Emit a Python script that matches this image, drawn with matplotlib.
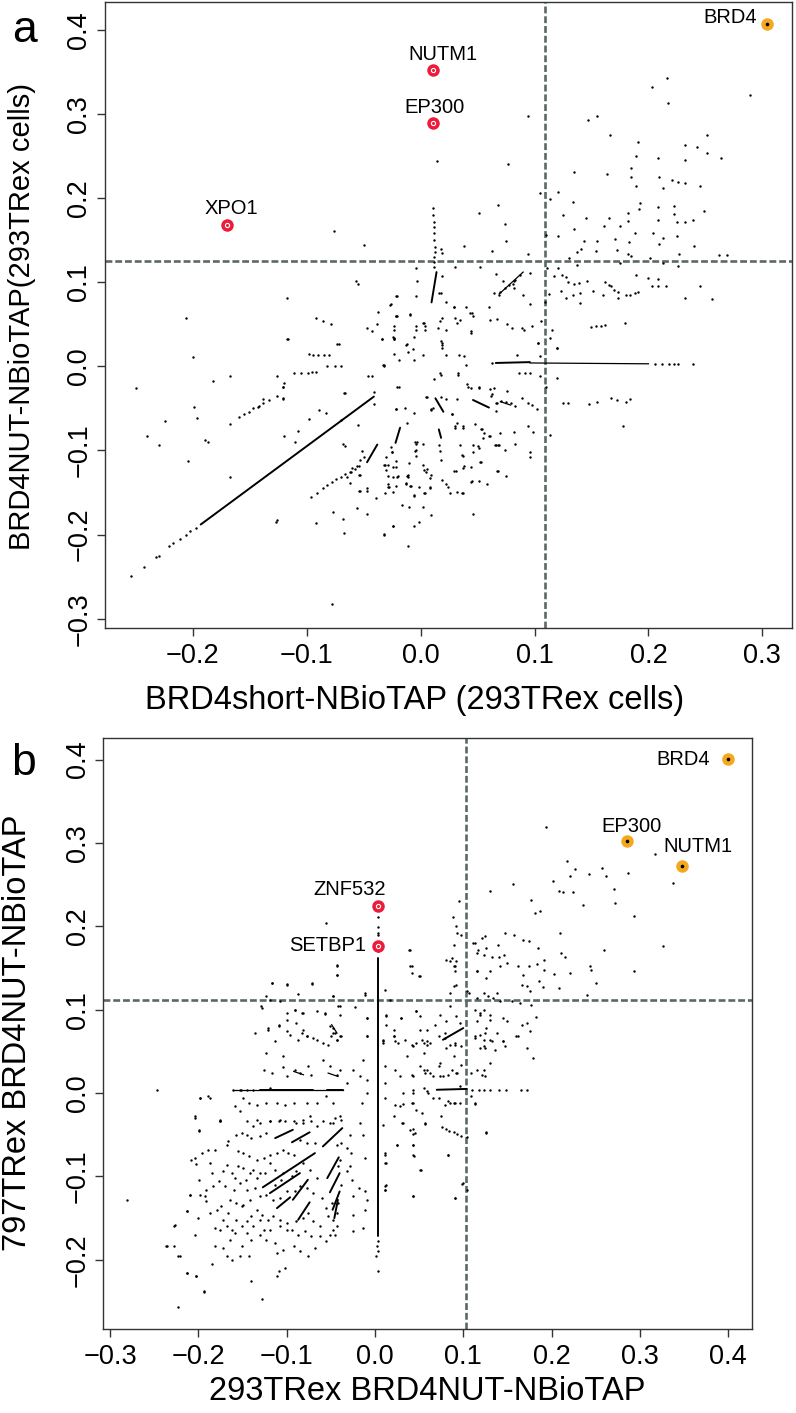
import matplotlib.pyplot as plt

plt.rcParams['font.family'] = ['Liberation Sans', 'DejaVu Sans']

# ---------------- panel a data ----------------
a_points = [
    (-0.076, 0.161), (-0.050, 0.144), (-0.057, 0.101), (-0.055, 0.098), (-0.206, 0.058), (-0.117, 0.081),
    (-0.092, 0.057), (-0.086, 0.054), (-0.079, 0.050), (-0.117, 0.033), (-0.073, 0.026), (-0.047, 0.046),
    (-0.043, 0.042), (-0.037, 0.064), (-0.038, 0.050), (-0.026, 0.074), (-0.021, 0.083), (-0.022, 0.060),
    (-0.034, 0.032), (-0.024, 0.035),
    (0.216, 0.343), (0.203, 0.332), (0.217, 0.313), (0.289, 0.322), (0.094, 0.298), (0.147, 0.293),
    (0.155, 0.298), (0.166, 0.275), (0.191, 0.267), (0.251, 0.275), (0.232, 0.263), (0.243, 0.261),
    (0.251, 0.254), (0.264, 0.248), (0.189, 0.250), (0.208, 0.248), (0.232, 0.245), (0.014, 0.244),
    (0.077, 0.240), (0.135, 0.231), (0.164, 0.229), (0.185, 0.236), (0.185, 0.225), (0.209, 0.225),
    (0.221, 0.221), (0.226, 0.219), (0.232, 0.218), (0.189, 0.214), (0.213, 0.212), (0.245, 0.214),
    (0.105, 0.206), (0.121, 0.207), (0.114, 0.199), (0.134, 0.195), (0.193, 0.194), (0.192, 0.187),
    (0.208, 0.189), (0.222, 0.190), (0.249, 0.185), (0.051, 0.182), (0.068, 0.192), (0.125, 0.180),
    (0.145, 0.176), (0.165, 0.176), (0.182, 0.182), (0.182, 0.173), (0.208, 0.174), (0.222, 0.181),
    (0.225, 0.171), (0.232, 0.171), (0.239, 0.174), (0.074, 0.169), (0.161, 0.167), (0.175, 0.167),
    (0.135, 0.163), (0.188, 0.159), (0.204, 0.159), (0.213, 0.152), (0.225, 0.155), (0.110, 0.156),
    (0.121, 0.155), (0.075, 0.149), (0.038, 0.143), (0.143, 0.149), (0.155, 0.149), (0.171, 0.151),
    (0.183, 0.148), (0.209, 0.145), (0.240, 0.143), (0.063, 0.137), (0.094, 0.133), (0.141, 0.139),
    (0.137, 0.136), (0.154, 0.137), (0.172, 0.138), (0.182, 0.133), (0.185, 0.131), (0.227, 0.133),
    (0.262, 0.132), (0.269, 0.132), (0.130, 0.129), (0.201, 0.129), (0.175, 0.123), (0.213, 0.123),
    (0.226, 0.119), (-0.004, 0.117), (0.030, 0.118), (0.052, 0.118), (0.137, 0.120), (0.121, 0.117),
    (0.111, 0.117), (0.066, 0.110), (0.096, 0.111), (0.189, 0.108), (0.019, 0.107), (-0.003, 0.101),
    (0.117, 0.107), (0.124, 0.108), (0.128, 0.106), (0.129, 0.100), (0.135, 0.098), (0.139, 0.099),
    (0.146, 0.102), (0.072, 0.101), (0.082, 0.101), (0.081, 0.098), (0.162, 0.100), (0.165, 0.097),
    (0.167, 0.095), (0.170, 0.091), (0.173, 0.088), (0.200, 0.105), (0.203, 0.096), (0.208, 0.104),
    (0.208, 0.096), (0.215, 0.095), (0.245, 0.096), (0.064, 0.087), (0.069, 0.085), (0.082, 0.093),
    (0.090, 0.085), (0.113, 0.086), (0.123, 0.090), (0.134, 0.085), (0.140, 0.087), (0.151, 0.090),
    (0.160, 0.085), (0.180, 0.085), (0.184, 0.085), (0.188, 0.087), (0.191, 0.088), (0.173, 0.081),
    (0.232, 0.081), (0.256, 0.080), (0.109, 0.077), (0.128, 0.081), (0.140, 0.075), (-0.027, 0.073),
    (-0.022, 0.083), (-0.004, 0.083), (0.016, 0.087), (0.018, 0.087), (0.029, 0.070), (0.040, 0.070),
    (0.060, 0.070), (0.096, 0.074), (-0.009, 0.062), (-0.022, 0.060), (0.019, 0.058), (0.017, 0.054),
    (0.030, 0.057), (0.035, 0.055), (0.043, 0.063), (0.067, 0.056), (0.061, 0.055), (0.002, 0.051),
    (0.032, 0.052), (-0.023, 0.048), (-0.004, 0.048), (0.004, 0.048), (0.015, 0.046), (0.044, 0.042),
    (0.076, 0.050), (0.080, 0.046), (0.089, 0.046), (0.091, 0.043), (0.098, 0.048), (0.106, 0.054),
    (0.115, 0.043), (0.150, 0.047), (0.154, 0.048), (0.158, 0.048), (0.162, 0.049), (0.179, 0.052),
    (-0.023, 0.032), (-0.013, 0.025), (0.019, 0.028), (0.019, 0.022), (0.103, 0.028), (0.120, 0.022),
    (-0.200, 0.011), (-0.250, -0.026), (-0.167, -0.012), (-0.182, -0.018), (-0.116, 0.033), (-0.072, 0.026),
    (-0.034, 0.032), (-0.046, -0.011), (-0.043, -0.011), (-0.066, -0.032), (-0.041, -0.030), (-0.041, -0.045),
    (-0.033, 0.001), (-0.022, -0.051), (-0.021, -0.024), (-0.126, -0.011), (-0.120, -0.020), (-0.121, -0.038),
    (-0.199, -0.048), (-0.196, -0.062), (-0.224, -0.065), (-0.240, -0.083), (-0.230, -0.094), (-0.189, -0.088),
    (-0.187, -0.090), (-0.167, -0.068), (-0.204, -0.113), (-0.167, -0.132), (-0.120, -0.083), (-0.110, -0.090),
    (-0.108, -0.077), (-0.098, -0.063), (-0.089, -0.052), (-0.083, -0.055), (-0.055, -0.070), (-0.070, -0.064),
    (-0.068, -0.092), (-0.066, -0.095), (-0.127, -0.185), (-0.126, -0.183), (-0.092, -0.186), (-0.077, -0.173),
    (-0.068, -0.182), (-0.067, -0.198), (-0.056, -0.168), (-0.047, -0.175), (-0.032, -0.200), (-0.024, -0.190),
    (-0.078, -0.283),
    (-0.096, -0.155), (-0.091, -0.150), (-0.086, -0.145), (-0.082, -0.141), (-0.078, -0.137), (-0.074, -0.134),
    (-0.070, -0.131), (-0.066, -0.128), (-0.062, -0.126), (-0.058, -0.122), (-0.054, -0.119), (-0.050, -0.108),
    (-0.062, -0.139), (-0.053, -0.129), (-0.053, -0.148), (-0.047, -0.148), (-0.039, -0.156), (-0.029, -0.117),
    (-0.029, -0.130), (-0.029, -0.143), (-0.024, -0.120), (-0.020, -0.130), (-0.025, -0.102),
    (-0.098, 0.015), (-0.094, 0.014), (-0.090, 0.014), (-0.085, 0.014), (-0.080, 0.013),
    (-0.111, -0.008), (-0.105, -0.008), (-0.099, -0.008), (-0.095, -0.007), (-0.092, -0.007),
    (-0.082, 0.000), (-0.075, 0.000), (-0.070, 0.000), (-0.032, 0.000),
    (-0.159, -0.060), (-0.155, -0.057), (-0.151, -0.054), (-0.147, -0.050), (-0.143, -0.048), (-0.138, -0.044),
    (-0.133, -0.040), (-0.126, -0.035), (-0.138, -0.039), (-0.142, -0.047), (-0.121, -0.025), (-0.121, -0.039),
    (-0.067, -0.032),
    (0.103, 0.028), (0.114, 0.034), (0.120, 0.022), (0.085, 0.013), (0.105, 0.012), (-0.006, 0.035),
    (-0.023, 0.034), (-0.012, 0.026), (-0.007, 0.020), (-0.006, 0.008), (0.002, 0.013), (-0.023, 0.015),
    (-0.019, 0.008), (0.018, 0.030), (0.019, 0.025), (0.022, 0.013), (0.034, 0.013), (0.038, 0.012),
    (0.040, 0.001), (0.044, 0.040), (-0.032, 0.001), (0.017, -0.008), (0.033, -0.008), (0.012, -0.015),
    (0.086, -0.008), (0.092, -0.008), (0.096, -0.008), (0.105, -0.012), (0.120, -0.014), (0.110, -0.024),
    (-0.019, -0.024), (0.042, -0.024), (0.044, -0.026), (0.051, -0.026), (0.064, -0.026), (0.076, -0.029),
    (0.062, -0.035), (0.067, -0.043), (0.071, -0.041), (0.075, -0.042), (0.079, -0.044), (0.083, -0.047),
    (0.089, -0.038), (0.094, -0.043), (0.098, -0.046), (0.102, -0.051), (0.066, -0.053), (0.125, -0.043),
    (0.129, -0.044), (0.148, -0.045), (0.155, -0.042), (0.167, -0.038), (0.172, -0.040), (0.180, -0.042),
    (0.184, -0.039), (0.178, -0.071), (0.114, -0.082), (0.094, -0.071), (0.099, -0.078), (0.082, -0.078),
    (0.083, -0.092), (0.074, -0.099), (0.066, -0.094), (0.069, -0.093), (0.055, -0.085), (0.060, -0.083),
    (0.048, -0.068), (0.053, -0.075), (0.030, -0.071), (0.037, -0.071), (0.032, -0.039), (0.028, -0.057),
    (0.022, -0.039), (0.009, -0.051), (0.006, -0.037), (-0.014, -0.050), (-0.022, -0.051), (-0.012, -0.067),
    (-0.006, -0.056), (-0.026, -0.096), (-0.025, -0.102), (-0.004, -0.092), (-0.004, -0.100), (-0.004, -0.107),
    (0.002, -0.092), (0.035, -0.093), (0.037, -0.106), (0.046, -0.093), (0.046, -0.102), (0.050, -0.095),
    (0.016, -0.093), (0.017, -0.101), (0.018, -0.111), (0.053, -0.114), (0.038, -0.118), (0.044, -0.120),
    (0.031, -0.125), (0.067, -0.124), (0.075, -0.130), (0.096, -0.102), (0.096, -0.108), (-0.032, -0.117),
    (-0.030, -0.108), (-0.022, -0.113), (-0.022, -0.120), (-0.029, -0.140), (-0.022, -0.142), (-0.031, -0.150),
    (-0.024, -0.149), (-0.011, -0.129), (-0.012, -0.130), (-0.009, -0.142), (-0.013, -0.140), (0.002, -0.117),
    (0.003, -0.123), (0.006, -0.122), (0.009, -0.129), (0.008, -0.133), (-0.006, -0.153), (0.003, -0.150),
    (0.008, -0.145), (0.019, -0.135), (0.022, -0.140), (0.026, -0.150), (0.032, -0.149), (0.037, -0.151),
    (0.044, -0.137), (0.051, -0.136), (0.058, -0.140), (-0.016, -0.165), (-0.010, -0.167), (0.002, -0.167),
    (0.009, -0.177), (0.046, -0.176), (-0.024, -0.190), (-0.032, -0.199), (-0.006, -0.190), (-0.001, -0.185),
    (-0.011, -0.213),
    (-0.121, -0.025), (0.005, -0.037), (0.009, -0.052), (0.011, -0.050), (0.018, -0.036), (0.028, -0.057),
    (0.030, -0.073), (0.032, -0.067), (0.037, -0.073), (0.041, -0.021), (0.051, -0.025), (0.061, -0.027),
    (0.063, -0.033), (0.066, -0.044), (0.054, -0.075), (0.056, -0.079), (0.061, -0.083), (0.070, -0.079),
    (0.065, -0.094), (0.068, -0.093), (0.036, -0.105), (0.051, -0.097), (0.052, -0.114), (0.029, -0.125),
    (0.037, -0.121), (0.045, -0.136), (0.068, -0.124), (0.024, -0.143), (0.036, -0.151), (-0.005, -0.090),
    (-0.003, -0.090), (-0.005, -0.101), (-0.031, -0.117), (-0.030, -0.123), (-0.021, -0.131), (-0.024, -0.132),
    (-0.028, -0.143), (-0.010, -0.115), (-0.011, -0.131), (-0.013, -0.139), (-0.008, -0.142), (-0.006, -0.154),
    (-0.001, -0.143), (0.005, -0.126), (0.008, -0.143), (0.004, -0.150), (-0.047, -0.145), (-0.054, -0.148),
    (-0.065, -0.131), (-0.061, -0.126), (-0.060, -0.121), (-0.056, -0.119), (-0.053, -0.111), (-0.051, -0.101),
    (-0.054, -0.129),
    (0.018, 0.139), (0.019, 0.135), (0.022, 0.076), (0.029, 0.071), (-0.021, 0.060), (-0.009, 0.061),
    (-0.023, 0.043), (-0.023, 0.033), (-0.011, 0.017), (-0.004, 0.043), (0.003, 0.051), (0.004, 0.043),
    (0.022, 0.043), (0.045, 0.063), (0.046, 0.060), (0.033, -0.010), (0.018, -0.010),
    # sparse tails of the dense runs
    (-0.254, -0.249), (-0.243, -0.238), (-0.232, -0.227), (-0.230, -0.225), (-0.221, -0.214), (-0.217, -0.210),
    (-0.211, -0.205), (-0.206, -0.200), (-0.202, -0.196), (-0.197, -0.192),
    (0.063, 0.004), (0.206, 0.003), (0.212, 0.003), (0.218, 0.003), (0.222, 0.003), (0.226, 0.003), (0.239, 0.003),
    (0.012, 0.118), (0.012, 0.124), (0.012, 0.130), (0.013, 0.136), (0.013, 0.142), (0.012, 0.150),
    (0.012, 0.158), (0.012, 0.165), (0.012, 0.172), (0.011, 0.180), (0.011, 0.188),
    (0.070, 0.088), (0.074, 0.093), (0.078, 0.097), (0.083, 0.103), (0.087, 0.108),
]
# dense runs of points, drawn as solid strokes (x0, y0, x1, y1)
a_runs_bold = [
    (-0.193, -0.188, -0.041, -0.036),
    (0.066, 0.004, 0.096, 0.005),
    (0.0096, 0.076, 0.014, 0.112),
    (0.013, -0.038, 0.020, -0.054),
    (0.046, -0.040, 0.060, -0.049),
    (0.016, -0.075, 0.018, -0.085),
    (-0.022, -0.091, -0.018, -0.073),
    (-0.047, -0.114, -0.038, -0.093),
]
a_runs_thin = [
    (0.096, 0.004, 0.200, 0.003),
    (0.069, 0.086, 0.090, 0.112),
    (0.070, -0.042, 0.079, -0.046),
]
a_genes = ['XPO1', 'NUTM1', 'EP300', 'BRD4']
a_gene_x = [-0.170, 0.011, 0.0105, 0.304]
a_gene_y = [0.168, 0.352, 0.289, 0.407]
a_gene_group = ['red', 'red', 'red', 'orange']
a_cut_x, a_cut_y = 0.109, 0.125

# ---------------- panel b data ----------------
b_points = [
    (-0.199, -0.045), (-0.196, -0.072), (-0.208, -0.080), (-0.203, -0.085), (-0.187, -0.084), (-0.181, -0.068),
    (-0.189, -0.068), (-0.168, -0.062), (-0.166, -0.058), (-0.157, -0.050), (-0.151, -0.048), (-0.145, -0.050),
    (-0.140, -0.054), (-0.130, -0.052), (-0.123, -0.048), (-0.138, -0.040), (-0.130, -0.036), (-0.119, -0.034),
    (-0.109, -0.034), (-0.102, -0.033), (-0.089, -0.036), (-0.081, -0.036), (-0.072, -0.034), (-0.066, -0.040),
    (-0.155, -0.070), (-0.149, -0.072), (-0.143, -0.076), (-0.134, -0.080), (-0.126, -0.078), (-0.119, -0.074),
    (-0.111, -0.072), (-0.104, -0.068), (-0.098, -0.072), (-0.092, -0.074), (-0.085, -0.056), (-0.077, -0.060),
    (-0.068, -0.060), (-0.047, -0.036), (-0.043, -0.062), (-0.038, -0.060), (-0.028, -0.050), (-0.013, -0.050),
    (-0.011, -0.078), (-0.026, -0.104), (-0.032, -0.094), (-0.038, -0.110), (-0.066, -0.102), (-0.074, -0.092),
    (-0.081, -0.084), (-0.089, -0.094), (-0.094, -0.100), (-0.104, -0.096), (-0.113, -0.092), (-0.119, -0.084),
    (-0.125, -0.096), (-0.134, -0.102), (-0.142, -0.096), (-0.149, -0.090), (-0.155, -0.088), (-0.162, -0.096),
    (-0.168, -0.086), (-0.172, -0.094), (-0.185, -0.096), (-0.183, -0.112), (-0.177, -0.106), (-0.170, -0.112),
    (-0.160, -0.116), (-0.153, -0.108), (-0.145, -0.116), (-0.136, -0.114), (-0.130, -0.124), (-0.123, -0.122),
    (-0.115, -0.128), (-0.108, -0.126), (-0.100, -0.118), (-0.091, -0.118), (-0.085, -0.112), (-0.077, -0.114),
    (-0.070, -0.120), (-0.060, -0.126), (-0.055, -0.138), (-0.053, -0.148), (-0.047, -0.152), (-0.043, -0.160),
    (-0.051, -0.170), (-0.062, -0.160), (-0.070, -0.154), (-0.076, -0.144), (-0.081, -0.150), (-0.089, -0.154),
    (-0.094, -0.164), (-0.100, -0.156), (-0.108, -0.152), (-0.115, -0.148), (-0.121, -0.152), (-0.128, -0.146),
    (-0.134, -0.140), (-0.140, -0.148), (-0.145, -0.154), (-0.151, -0.160), (-0.157, -0.152), (-0.162, -0.164),
    (-0.168, -0.160), (-0.176, -0.164), (-0.181, -0.162), (-0.187, -0.144), (-0.191, -0.130), (-0.193, -0.124),
    (-0.198, -0.122), (-0.210, -0.122), (-0.213, -0.142), (-0.200, -0.150), (-0.204, -0.170), (-0.227, -0.158),
    (-0.236, -0.184), (-0.223, -0.196), (-0.213, -0.216), (-0.203, -0.220), (-0.194, -0.239), (-0.185, -0.205),
    (-0.181, -0.184), (-0.172, -0.186), (-0.168, -0.196), (-0.162, -0.200), (-0.153, -0.196), (-0.143, -0.196),
    (-0.151, -0.184), (-0.140, -0.176), (-0.130, -0.170), (-0.123, -0.176), (-0.113, -0.180), (-0.111, -0.192),
    (-0.104, -0.188), (-0.092, -0.184), (-0.085, -0.190), (-0.076, -0.196), (-0.068, -0.186), (-0.055, -0.178),
    (-0.140, -0.226), (-0.128, -0.247), (-0.109, -0.214), (-0.102, -0.210), (-0.111, -0.220), (-0.164, -0.176),
    (-0.159, -0.168), (-0.145, -0.168), (-0.138, -0.160), (-0.151, -0.136), (-0.157, -0.132), (-0.164, -0.128),
    (-0.174, -0.136), (-0.179, -0.140), (-0.126, -0.164), (-0.119, -0.164), (-0.108, -0.160), (-0.100, -0.164),
    (-0.087, -0.170), (-0.079, -0.166), (-0.072, -0.172), (-0.062, -0.172), (-0.047, -0.164), (-0.045, -0.170),
    (-0.049, -0.132), (-0.043, -0.144), (-0.042, -0.132), (-0.025, -0.146), (-0.025, -0.166), (-0.013, -0.162),
    (-0.011, -0.140), (-0.009, -0.128), (-0.011, -0.118), (-0.018, -0.114), (-0.025, -0.124), (-0.042, -0.088),
    (-0.040, -0.080), (-0.028, -0.088), (-0.027, -0.072), (-0.032, -0.066), (-0.017, -0.036), (0.011, -0.072),
    (0.013, -0.084), (0.025, -0.062), (0.031, -0.036), (0.043, -0.043), (0.045, -0.048), (0.043, -0.062),
    (0.044, -0.076), (0.051, -0.092), (0.057, -0.036), (0.083, -0.074), (0.091, -0.126), (0.100, -0.108),
    (0.126, -0.047), (0.043, -0.124), (0.013, -0.110), (0.011, -0.116), (0.001, -0.196), (0.004, -0.214),
    (0.002, -0.184), (-0.199, -0.104), (-0.191, -0.116), (-0.159, -0.102), (-0.146, -0.104), (-0.138, -0.092),
    (-0.130, -0.096), (-0.166, -0.144), (-0.172, -0.152), (-0.130, -0.152), (-0.113, -0.110), (-0.106, -0.104),
    (-0.149, -0.134), (-0.142, -0.128),
    (-0.043, 0.154), (-0.043, 0.142), (-0.117, 0.132), (-0.100, 0.131), (-0.071, 0.132), (0.040, 0.172),
    (0.042, 0.152), (0.042, 0.144), (0.051, 0.140), (0.004, 0.190), (-0.011, 0.118), (-0.047, 0.116),
    (-0.040, 0.104), (-0.128, 0.102), (-0.119, 0.112), (-0.108, 0.110), (-0.091, 0.100), (-0.081, 0.096),
    (-0.066, 0.098), (-0.057, 0.096), (-0.023, 0.103), (-0.047, 0.078), (-0.045, 0.072), (-0.043, 0.064),
    (-0.038, 0.068), (-0.050, 0.068), (-0.059, 0.060), (-0.053, 0.058), (-0.066, 0.064), (-0.077, 0.068),
    (-0.081, 0.076), (-0.089, 0.084), (-0.100, 0.088), (-0.109, 0.080), (-0.121, 0.076), (-0.136, 0.072),
    (-0.104, 0.044), (-0.113, 0.062), (-0.123, 0.048), (-0.126, 0.028), (-0.117, 0.024), (-0.104, 0.031),
    (-0.100, 0.020), (-0.091, 0.028), (-0.085, 0.024), (-0.076, 0.032), (-0.072, 0.022), (-0.059, 0.040),
    (-0.051, 0.032), (-0.043, 0.022), (-0.040, 0.028), (-0.032, 0.012), (-0.025, 0.028), (-0.017, 0.020),
    (-0.009, 0.016), (-0.013, 0.040), (-0.009, 0.068), (-0.009, 0.090), (0.011, 0.124), (0.017, 0.112),
    (0.013, 0.092), (0.021, 0.068), (0.026, 0.060), (0.034, 0.064), (0.051, 0.076), (0.030, 0.090),
    (0.047, 0.098), (0.055, 0.060), (0.059, 0.058), (0.036, 0.044), (0.043, 0.020), (0.051, 0.032),
    (0.059, 0.028), (0.066, 0.020), (0.074, 0.036), (0.081, 0.054), (0.089, 0.044), (0.077, 0.020),
    (0.092, 0.024), (0.096, 0.008), (0.085, 0.104), (0.092, 0.092), (0.096, 0.084), (0.089, 0.152),
    (0.091, 0.146), (0.092, 0.158), (0.087, 0.162), (0.104, 0.122), (0.113, 0.100), (0.119, 0.094),
    (0.123, 0.100), (0.125, 0.072), (0.113, 0.068), (0.119, 0.054), (0.115, 0.028), (0.123, 0.028),
    (0.125, 0.020), (0.109, -0.004), (0.113, -0.012), (0.079, -0.014), (0.085, -0.012), (0.089, -0.012),
    (0.066, -0.006), (0.053, -0.024), (0.043, -0.012), (0.032, 0.000), (0.028, -0.016), (0.021, -0.028),
    (-0.009, 0.000), (-0.015, -0.012), (-0.149, -0.006), (-0.143, -0.012), (-0.134, -0.014), (-0.123, -0.012),
    (-0.111, -0.012), (-0.102, -0.014), (-0.092, -0.012), (-0.077, -0.012), (-0.066, -0.012), (-0.055, -0.004),
    (-0.047, -0.012), (-0.045, -0.030), (-0.040, -0.028), (-0.038, -0.032), (-0.051, -0.036), (-0.059, -0.034),
    (-0.074, -0.028), (-0.081, -0.032), (-0.092, -0.034), (-0.108, -0.032), (-0.119, -0.034), (-0.134, -0.032),
    (-0.145, -0.034), (-0.153, -0.022), (-0.159, -0.016), (-0.176, -0.034), (-0.187, -0.006), (-0.198, -0.006),
    (-0.204, -0.028), (-0.153, 0.004), (-0.119, 0.006), (0.081, 0.160), (0.098, 0.190), (0.117, 0.172),
    (0.123, 0.166), (0.115, 0.146), (0.126, 0.138), (0.111, 0.180), (0.125, 0.188), (0.128, 0.116),
    (0.130, 0.088), (0.130, 0.064),
    (-0.247, 0.004), (-0.281, -0.128), (-0.237, -0.184), (-0.223, -0.257), (-0.228, -0.160), (-0.213, -0.142),
    (-0.210, -0.122), (-0.204, -0.078), (-0.199, -0.044), (-0.204, -0.030), (-0.198, -0.006), (-0.189, -0.004),
    (-0.194, -0.238), (-0.213, -0.216), (-0.203, -0.220), (-0.221, -0.196), (-0.176, -0.034), (-0.176, -0.032),
    (-0.228, -0.184),
    (-0.055, 0.204), (-0.043, 0.153), (-0.043, 0.142), (-0.117, 0.132), (-0.100, 0.130), (-0.071, 0.131),
    (-0.087, 0.119), (-0.047, 0.116), (-0.123, 0.116), (-0.011, 0.120), (-0.129, 0.104), (-0.100, 0.096),
    (-0.091, 0.100), (-0.083, 0.096), (-0.057, 0.095), (-0.042, 0.104), (-0.040, 0.094), (-0.009, 0.090),
    (0.013, 0.094), (0.013, 0.082), (-0.121, 0.078), (-0.109, 0.082), (-0.100, 0.074), (-0.096, 0.070),
    (-0.087, 0.064), (-0.083, 0.072), (-0.077, 0.068), (-0.070, 0.066), (-0.051, 0.080), (-0.047, 0.072),
    (-0.043, 0.064), (-0.040, 0.068), (-0.009, 0.068), (0.009, 0.060), (0.021, 0.068),
    (0.194, 0.319), (0.317, 0.287), (0.337, 0.252), (0.218, 0.278), (0.226, 0.269), (0.221, 0.261),
    (0.242, 0.263), (0.257, 0.270), (0.262, 0.261), (0.287, 0.264), (0.202, 0.255), (0.208, 0.242),
    (0.213, 0.241), (0.224, 0.241), (0.271, 0.245), (0.272, 0.228), (0.236, 0.226), (0.293, 0.212),
    (0.177, 0.232), (0.181, 0.216), (0.187, 0.218), (0.156, 0.251), (0.130, 0.242), (0.095, 0.230),
    (0.088, 0.211), (0.092, 0.200), (0.089, 0.178), (0.093, 0.192), (0.210, 0.192), (0.259, 0.172),
    (0.326, 0.177), (0.293, 0.147), (0.243, 0.152), (0.245, 0.148), (0.250, 0.132), (0.240, 0.118),
    (0.208, 0.126), (0.190, 0.127), (0.172, 0.129), (0.176, 0.122), (0.186, 0.135), (0.191, 0.148),
    (0.221, 0.144), (0.203, 0.143), (0.211, 0.168), (0.215, 0.163), (0.185, 0.174), (0.168, 0.184),
    (0.174, 0.182), (0.157, 0.190), (0.147, 0.192), (0.139, 0.178), (0.121, 0.186), (0.113, 0.180),
    (0.116, 0.168), (0.126, 0.174), (0.132, 0.163), (0.140, 0.163), (0.146, 0.166), (0.150, 0.156),
    (0.142, 0.152), (0.130, 0.146), (0.115, 0.146), (0.162, 0.152), (0.168, 0.142), (0.174, 0.152),
    (0.183, 0.155), (0.191, 0.160), (0.166, 0.130), (0.138, 0.120), (0.039, 0.172), (0.040, 0.152),
    (0.050, 0.140), (0.085, 0.159), (0.091, 0.152), (0.089, 0.128), (0.085, 0.120), (0.092, 0.130),
    (0.106, 0.120), (0.115, 0.114), (0.123, 0.120), (0.134, 0.114), (0.142, 0.110), (0.155, 0.110),
    (0.164, 0.108), (0.177, 0.106), (0.182, 0.091), (0.172, 0.084), (0.166, 0.082), (0.149, 0.086),
    (0.145, 0.090), (0.130, 0.094), (0.119, 0.096), (0.115, 0.086), (0.126, 0.078), (0.138, 0.072),
    (0.119, 0.070), (0.145, 0.062), (0.160, 0.068), (0.176, 0.074), (0.123, 0.056), (0.081, 0.086),
    (0.074, 0.094), (0.068, 0.082), (0.059, 0.076), (0.051, 0.092), (0.047, 0.098), (0.043, 0.056),
    (0.030, 0.090), (0.021, 0.076), (0.009, 0.062), (0.059, 0.062), (0.091, 0.060), (0.079, 0.072),
    (0.009, 0.064), (0.023, 0.062), (0.042, 0.058), (0.047, 0.060), (0.053, 0.064), (0.062, 0.060),
    (0.072, 0.068), (0.079, 0.066), (0.085, 0.058), (0.091, 0.058), (0.098, 0.056), (0.113, 0.066),
    (0.123, 0.064), (0.125, 0.054), (0.132, 0.062), (0.145, 0.062), (0.136, 0.052), (0.147, 0.056),
    (0.162, 0.068), (0.172, 0.054), (0.179, 0.042), (0.055, 0.048), (0.130, 0.036), (0.011, 0.012),
    (0.011, 0.032), (0.023, 0.028), (0.028, 0.020), (0.042, 0.022), (0.055, 0.028), (0.057, 0.024),
    (0.062, 0.024), (0.072, 0.032), (0.074, 0.020), (0.083, 0.022), (0.087, 0.028), (0.093, 0.024),
    (0.098, 0.034), (0.109, 0.024), (0.121, 0.022), (0.043, 0.004), (0.043, 0.000), (0.055, 0.006),
    (0.059, 0.002), (0.060, 0.000), (0.072, -0.006), (0.083, -0.010), (0.091, -0.012), (0.096, -0.012),
    (0.113, -0.013), (0.011, -0.006), (0.023, -0.014), (0.032, -0.013), (0.042, -0.012), (0.047, -0.020),
    (0.009, -0.038), (0.032, -0.036), (0.040, -0.044), (0.043, -0.049), (0.057, -0.037), (0.075, -0.028),
    (0.126, -0.048), (0.025, -0.062), (0.043, -0.062), (0.011, -0.074), (0.011, -0.084), (0.043, -0.074),
    (0.052, -0.092), (0.083, -0.074), (0.011, -0.112), (0.011, -0.116), (0.043, -0.124), (0.091, -0.126),
    (0.099, -0.109), (0.104, -0.116),
    # sparse tails of the dense runs
    (0.003, 0.211), (0.003, 0.199), (0.003, 0.192), (0.003, 0.170), (0.003, -0.178), (0.003, -0.190),
    (-0.161, 0.004), (-0.152, 0.004), (-0.145, 0.004), (-0.138, 0.004),
    (0.110, 0.004), (0.118, 0.004), (0.124, 0.004), (0.130, 0.004), (0.140, 0.004), (0.148, 0.004),
    (0.165, 0.004), (0.172, 0.004),
    (0.076, -0.041), (0.080, -0.043), (0.084, -0.045), (0.089, -0.047), (0.093, -0.049), (0.098, -0.051),
    (0.104, -0.053),
]
b_runs_bold = [
    (0.003, -0.172, 0.003, 0.162),
    (-0.130, 0.004, -0.070, 0.004),
    (-0.054, 0.004, -0.036, 0.004),
    (0.070, 0.004, 0.104, 0.005),
    (0.077, 0.064, 0.100, 0.078),
    (-0.059, -0.064, -0.037, -0.042),
    (-0.094, -0.059, -0.074, -0.047),
    (-0.113, -0.054, -0.093, -0.044),
    (-0.127, -0.113, -0.068, -0.072),
    (-0.054, -0.102, -0.041, -0.077),
    (-0.051, -0.119, -0.040, -0.096),
    (-0.093, -0.128, -0.076, -0.104),
    (-0.087, -0.152, -0.074, -0.131),
    (-0.111, -0.138, -0.096, -0.125),
    (-0.119, -0.120, -0.085, -0.096),
    (-0.048, -0.140, -0.040, -0.118),
    (-0.046, -0.150, -0.042, -0.128),
]
b_runs_thin = [
    (-0.161, 0.004, -0.036, 0.004),
    (-0.092, 0.026, -0.081, 0.022),
    (-0.053, 0.024, -0.042, 0.020),
    (-0.049, 0.082, -0.043, 0.072),
]
b_genes = ['BRD4', 'EP300', 'NUTM1', 'ZNF532', 'SETBP1']
b_gene_x = [0.400, 0.286, 0.348, 0.003, 0.003]
b_gene_y = [0.401, 0.302, 0.272, 0.224, 0.176]
b_gene_group = ['orange', 'orange', 'orange', 'red', 'red']
b_cut_x, b_cut_y = 0.103, 0.112

# label placement relative to the marker (points), ha
a_label_off = {'XPO1': (3.5, 8, 'center'), 'NUTM1': (7, 7, 'center'), 'EP300': (1.5, 7, 'center'),
               'BRD4': (-7, 0.7, 'right')}
b_label_off = {'BRD4': (-13, -4.5, 'right'), 'EP300': (3.2, 7, 'center'), 'NUTM1': (11.5, 10, 'center'),
               'ZNF532': (-20.5, 8, 'center'), 'SETBP1': (-8, -3.2, 'right')}

group_color = {'red': '#EC1B3B', 'orange': '#F5A81E'}
dash_col = '#5C6868'

W, H = 796, 1413
fig = plt.figure(figsize=(W / 100, H / 100), dpi=100)


def px_rect(l, r, t, b):
    return [l / W, 1 - b / H, (r - l) / W, (b - t) / H]


def fmt(v):
    return f'{v:.1f}'.replace('-', '\u2212')


def draw(ax, pts, bold, thin, genes, gx, gy, grp, cx, cy, offs, xl, yl, xt, yt):
    xs = [p[0] for p in pts]
    ys = [p[1] for p in pts]
    ax.scatter(xs, ys, s=3.0, c='black', linewidths=0, zorder=2)
    for x0, y0, x1, y1 in bold:
        ax.plot([x0, x1], [y0, y1], color='black', lw=1.4, solid_capstyle='round', zorder=2)
    for x0, y0, x1, y1 in thin:
        ax.plot([x0, x1], [y0, y1], color='black', lw=0.9, zorder=2)
    ax.axvline(cx, color=dash_col, lw=1.9, ls=(0, (2.6, 1.1)), zorder=1)
    ax.axhline(cy, color=dash_col, lw=1.9, ls=(0, (2.6, 1.1)), zorder=1)
    for g, x, y, k in zip(genes, gx, gy, grp):
        ax.plot(x, y, 'o', ms=9, color=group_color[k], mec='none', zorder=4)
        if k == 'red':
            ax.plot(x, y, 'o', ms=3.0, mfc='none', mec='white', mew=0.8, zorder=5)
        else:
            ax.plot(x, y, 'o', ms=1.6, color='black', zorder=5)
        dx, dy, ha = offs[g]
        ax.annotate(g, (x, y), xytext=(dx, dy), textcoords='offset points',
                    ha=ha, va='baseline', fontsize=14.5, zorder=6)
    ax.set_xlim(*xl)
    ax.set_ylim(*yl)
    ax.set_xticks(xt)
    ax.set_xticklabels([fmt(v) for v in xt])
    ax.set_yticks(yt)
    ax.set_yticklabels([fmt(v) for v in yt], rotation=90, va='center')
    ax.tick_params(axis='both', direction='out', length=6, width=1, labelsize=19.5, color='#333333')
    ax.tick_params(axis='x', pad=5)
    ax.tick_params(axis='y', pad=3)
    for s in ax.spines.values():
        s.set_linewidth(1.0)
        s.set_color('#333333')


ax_a = fig.add_axes(px_rect(105, 792, 2, 628))
draw(ax_a, a_points, a_runs_bold, a_runs_thin, a_genes, a_gene_x, a_gene_y, a_gene_group,
     a_cut_x, a_cut_y, a_label_off, (-0.277, 0.326), (-0.311, 0.433),
     [-0.2, -0.1, 0.0, 0.1, 0.2, 0.3], [-0.3, -0.2, -0.1, 0.0, 0.1, 0.2, 0.3, 0.4])

ax_b = fig.add_axes(px_rect(103, 752, 738, 1329))
draw(ax_b, b_points, b_runs_bold, b_runs_thin, b_genes, b_gene_x, b_gene_y, b_gene_group,
     b_cut_x, b_cut_y, b_label_off, (-0.308, 0.427), (-0.283, 0.426),
     [-0.3, -0.2, -0.1, 0.0, 0.1, 0.2, 0.3, 0.4], [-0.2, -0.1, 0.0, 0.1, 0.2, 0.3, 0.4])

# axis titles and panel letters
fig.text((148 + 682) / 2 / W, 1 - 700 / H, 'BRD4short-NBioTAP (293TRex cells)', fontsize=23.5,
         ha='center', va='center')
fig.text(22 / W, 1 - 316 / H, 'BRD4NUT-NBioTAP(293TRex cells)', fontsize=21, rotation=90,
         ha='center', va='center')
fig.text((103 + 752) / 2 / W, 1 - 1391 / H, '293TRex BRD4NUT-NBioTAP', fontsize=23.5,
         ha='center', va='center')
fig.text(18 / W, 1 - 1033 / H, '797TRex BRD4NUT-NBioTAP', fontsize=23.5, rotation=90,
         ha='center', va='center')
fig.text(24 / W, 1 - 42 / H, 'a', fontsize=32, ha='center', va='baseline')
fig.text(24 / W, 1 - 775 / H, 'b', fontsize=32, ha='center', va='baseline')

fig.savefig('out.png', dpi=100)
